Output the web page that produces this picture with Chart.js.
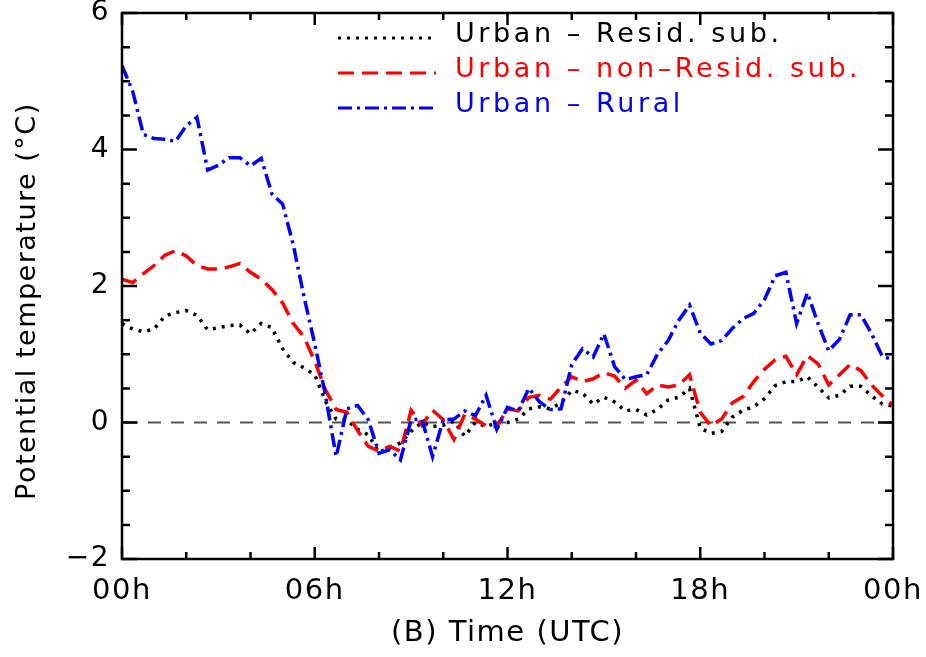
<!DOCTYPE html>
<html>
<head>
<meta charset="utf-8">
<script src="https://cdn.jsdelivr.net/npm/chart.js"></script>
<style>
  html, body { margin: 0; padding: 0; background: #fff; }
  canvas { display: block; }
</style>
</head>
<body>
<canvas id="chart" width="926" height="657"></canvas>
<script>
// time of day (minutes after 00 UTC), 20 min steps
const minutes = [
  0, 20, 40, 60, 80, 100, 120, 140, 160, 180,
  200, 220, 240, 260, 280, 300, 320, 340, 360, 380,
  400, 420, 440, 460, 480, 500, 520, 540, 560, 580,
  600, 620, 640, 660, 680, 700, 720, 740, 760, 780,
  800, 820, 840, 860, 880, 900, 920, 940, 960, 980,
  1000, 1020, 1040, 1060, 1080, 1100, 1120, 1140, 1160, 1180,
  1200, 1220, 1240, 1260, 1280, 1300, 1320, 1340, 1360, 1380,
  1400, 1420, 1440
];

// potential temperature differences (°C)
const urbanResid = [
  1.45, 1.37, 1.33, 1.37, 1.56, 1.61, 1.64, 1.57, 1.36, 1.39,
  1.42, 1.43, 1.30, 1.45, 1.39, 1.08, 0.88, 0.80, 0.70, 0.31,
  0.05, 0.04, -0.10, -0.18, -0.44, -0.36, -0.30, -0.13, 0.00, -0.06,
  -0.04, 0.02, -0.20, 0.00, -0.06, 0.00, 0.00, 0.05, 0.20, 0.23,
  0.20, 0.29, 0.47, 0.43, 0.27, 0.37, 0.30, 0.17, 0.19, 0.11,
  0.19, 0.33, 0.37, 0.50, -0.08, -0.16, -0.13, 0.08, 0.18, 0.23,
  0.35, 0.54, 0.60, 0.60, 0.67, 0.52, 0.36, 0.40, 0.53, 0.53,
  0.39, 0.27, 0.24
];
const urbanNonResid = [
  2.10, 2.05, 2.18, 2.30, 2.45, 2.52, 2.44, 2.30, 2.25, 2.25,
  2.28, 2.33, 2.20, 2.10, 1.95, 1.75, 1.45, 1.25, 0.90, 0.48,
  0.19, 0.15, -0.12, -0.35, -0.42, -0.35, -0.42, 0.18, -0.04, 0.18,
  0.04, -0.25, 0.12, 0.05, -0.05, -0.06, 0.20, 0.17, 0.37, 0.40,
  0.34, 0.52, 0.67, 0.60, 0.64, 0.73, 0.68, 0.50, 0.62, 0.42,
  0.55, 0.52, 0.55, 0.70, 0.15, -0.05, 0.05, 0.29, 0.38, 0.60,
  0.78, 0.92, 0.97, 0.70, 0.98, 0.86, 0.55, 0.70, 0.85, 0.76,
  0.55, 0.39, 0.25
];
const urbanRural = [
  5.23, 4.85, 4.22, 4.16, 4.15, 4.12, 4.35, 4.47, 3.70, 3.77,
  3.88, 3.88, 3.76, 3.87, 3.35, 3.20, 2.60, 1.84, 1.15, 0.40,
  -0.50, 0.20, 0.25, 0.04, -0.45, -0.40, -0.55, 0.04, 0.05, -0.50,
  0.04, 0.05, 0.17, 0.10, 0.40, -0.10, 0.22, 0.17, 0.50, 0.30,
  0.19, 0.20, 0.85, 1.08, 0.96, 1.30, 0.82, 0.63, 0.67, 0.70,
  1.00, 1.20, 1.50, 1.72, 1.31, 1.15, 1.20, 1.38, 1.52, 1.60,
  1.80, 2.15, 2.20, 1.45, 1.90, 1.45, 1.05, 1.22, 1.58, 1.58,
  1.30, 0.97, 0.92
];

const xTickHours = [0, 6, 12, 18, 24];
const xTickLabels = ['00h', '06h', '12h', '18h', '00h'];
const yTickValues = [-2, 0, 2, 4, 6];
const yTickLabels = ['\u22122', '0', '2', '4', '6'];

const FONT = '"DejaVu Sans", "Liberation Sans", sans-serif';
Chart.defaults.font.family = FONT;
Chart.defaults.color = '#000';

const toPoints = vals => vals.map((v, i) => ({ x: minutes[i] / 60, y: v }));

// IDL-like spacing for all canvas text
const spacing = {
  id: 'spacing',
  beforeInit(chart) { chart.ctx.letterSpacing = '1.5px'; },
  beforeDraw(chart) { chart.ctx.letterSpacing = '1.5px'; }
};

// dashed zero line, axis box and inward tick marks
const frame = {
  id: 'frame',
  beforeDatasetsDraw(chart) {
    const { ctx, chartArea: a, scales: { y } } = chart;
    const y0 = y.getPixelForValue(0);
    ctx.save();
    ctx.strokeStyle = '#555';
    ctx.lineWidth = 2;
    ctx.setLineDash([13, 10]);
    ctx.beginPath();
    ctx.moveTo(a.left + 3, y0);
    ctx.lineTo(a.right, y0);
    ctx.stroke();
    ctx.restore();
  },
  afterDatasetsDraw(chart) {
    const { ctx, chartArea: a, scales: { x, y } } = chart;
    ctx.save();
    ctx.strokeStyle = '#000';
    ctx.lineWidth = 2.5;
    ctx.beginPath();
    for (let h = 0; h <= 24; h += 2) {
      const px = x.getPixelForValue(h);
      const len = h % 6 === 0 ? 12 : 7;
      ctx.moveTo(px, a.bottom); ctx.lineTo(px, a.bottom - len);
      ctx.moveTo(px, a.top); ctx.lineTo(px, a.top + len);
    }
    for (let v = -2; v <= 6; v += 0.5) {
      const py = y.getPixelForValue(v);
      const len = v % 2 === 0 ? 15 : 8;
      ctx.moveTo(a.left, py); ctx.lineTo(a.left + len, py);
      ctx.moveTo(a.right, py); ctx.lineTo(a.right - len, py);
    }
    ctx.stroke();
    ctx.strokeRect(a.left, a.top, a.right - a.left, a.bottom - a.top);
    ctx.restore();
  }
};

// line samples with coloured labels, top right inside the box
const legendBox = {
  id: 'legendBox',
  afterDraw(chart) {
    const ctx = chart.ctx;
    ctx.save();
    ctx.font = '27px ' + FONT;
    ctx.letterSpacing = '3.6px';
    ctx.textBaseline = 'alphabetic';
    chart.data.datasets.forEach((ds, i) => {
      const base = 42 + i * 35;
      ctx.strokeStyle = ds.borderColor;
      ctx.lineWidth = 3;
      ctx.setLineDash(ds.borderDash);
      ctx.beginPath();
      ctx.moveTo(338, base - 4);
      ctx.lineTo(436, base - 4);
      ctx.stroke();
      ctx.fillStyle = ds.borderColor;
      ctx.fillText(ds.label, 455, base);
    });
    ctx.restore();
  }
};

const lineSet = (label, vals, color, dash, order) => ({
  label,
  data: toPoints(vals),
  borderColor: color,
  borderWidth: 3.5,
  borderDash: dash,
  borderCapStyle: 'butt',
  pointRadius: 0,
  tension: 0,
  fill: false,
  order
});

new Chart(document.getElementById('chart'), {
  type: 'line',
  data: {
    datasets: [
      lineSet('Urban \u2013 Resid. sub.', urbanResid, '#000000', [3, 6], 3),
      lineSet('Urban \u2013 non\u2013Resid. sub.', urbanNonResid, '#ff0000', [16, 8], 2),
      lineSet('Urban \u2013 Rural', urbanRural, '#0000ff', [14, 5, 3, 5], 1)
    ]
  },
  options: {
    responsive: false,
    devicePixelRatio: 1,
    animation: false,
    layout: { padding: { left: 0, right: 33, top: 13, bottom: 0 } },
    plugins: { legend: { display: false }, tooltip: { enabled: false } },
    scales: {
      x: {
        type: 'linear',
        min: 0,
        max: 24,
        afterBuildTicks: s => { s.ticks = xTickHours.map(v => ({ value: v })); },
        afterFit: s => { s.height = 98; s.paddingLeft = 0; s.paddingRight = 0; },
        ticks: {
          autoSkip: false,
          maxRotation: 0,
          padding: 15,
          font: { size: 29 },
          callback: (v, i) => xTickLabels[i]
        },
        grid: { display: false, drawTicks: false },
        border: { display: false },
        title: {
          display: true,
          text: '(B) Time (UTC)',
          font: { size: 29 },
          padding: { top: 0, bottom: 6 }
        }
      },
      y: {
        min: -2,
        max: 6,
        afterBuildTicks: s => { s.ticks = yTickValues.map(v => ({ value: v })); },
        afterFit: s => { s.width = 122; s.paddingTop = 0; s.paddingBottom = 0; },
        ticks: {
          padding: 12,
          font: { size: 28 },
          callback: (v, i) => yTickLabels[i]
        },
        grid: { display: false, drawTicks: false },
        border: { display: false },
        title: {
          display: true,
          text: 'Potential temperature (\u00b0C)   ',
          font: { size: 27 },
          padding: { top: 12, bottom: 0 }
        }
      }
    }
  },
  plugins: [spacing, frame, legendBox]
});
</script>
</body>
</html>
